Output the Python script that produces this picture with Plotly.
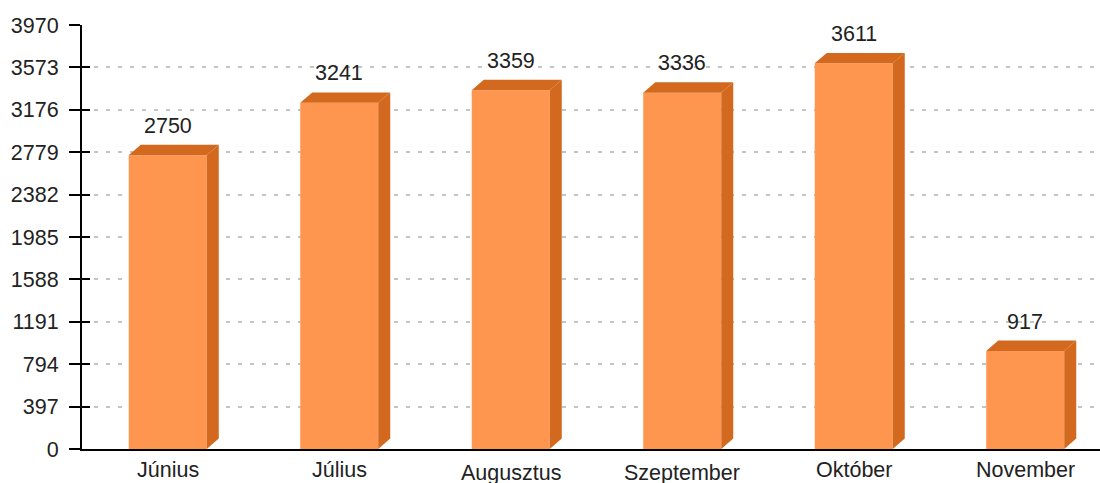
import plotly.graph_objects as go

months = ["Június", "Július", "Augusztus", "Szeptember", "Október", "November"]
values = [2750, 3241, 3359, 3336, 3611, 917]
y_ticks = [0, 397, 794, 1191, 1588, 1985, 2382, 2779, 3176, 3573, 3970]

# style: vertical offsets (px) of the category labels, as in the reference
label_drop = [0, 0, 3, 3, 0, 0]

FRONT = "#FF9650"
DARK = "#D2691E"
FONT = "Liberation Sans, Arial, sans-serif"
TXT = "#222222"
FS = 21.5

bar_w = 0.455
dx = 0.07      # depth offset (category units)
dv = 98        # depth offset (value units)

xs = list(range(len(months)))

fig = go.Figure()
fig.add_trace(go.Bar(x=xs, y=values, width=bar_w, marker=dict(color=FRONT, line=dict(width=0)),
                     hoverinfo="skip", showlegend=False))

for x, v in zip(xs, values):
    xl, xr = x - bar_w / 2, x + bar_w / 2
    # side face
    fig.add_trace(go.Scatter(x=[xr, xr, xr + dx, xr + dx, xr], y=[0, v, v + dv, dv, 0],
                             fill="toself", fillcolor=DARK, mode="lines", line=dict(width=0, color=DARK),
                             hoverinfo="skip", showlegend=False))
    # top face
    fig.add_trace(go.Scatter(x=[xl, xl + dx, xr + dx, xr, xl], y=[v, v + dv, v + dv, v, v],
                             fill="toself", fillcolor=DARK, mode="lines", line=dict(width=0, color=DARK),
                             hoverinfo="skip", showlegend=False))
    fig.add_annotation(x=x, y=v + dv, text=str(v), showarrow=False, yanchor="middle", yshift=19,
                       font=dict(family=FONT, size=FS, color=TXT))

for x, m, d in zip(xs, months, label_drop):
    fig.add_annotation(x=x, y=0, xref="x", yref="paper", text=m, showarrow=False,
                       yanchor="top", yshift=-7 - d, font=dict(family=FONT, size=FS, color=TXT))

fig.update_layout(
    width=1100, height=483,
    margin=dict(l=82, r=0, t=25, b=34),
    plot_bgcolor="white", paper_bgcolor="white",
    font=dict(family=FONT, size=FS, color=TXT),
    xaxis=dict(range=[-0.5, 5.436], tickvals=xs, showticklabels=False, showgrid=False, zeroline=False,
               showline=True, linecolor="black", linewidth=2, ticks=""),
    yaxis=dict(range=[0, 3970], tickvals=y_ticks, ticktext=[str(t) for t in y_ticks],
               showgrid=True, gridcolor="#C4C4C4", griddash="4px,8px", gridwidth=1.5,
               zeroline=False, showline=True, linecolor="black", linewidth=2,
               ticks="outside", ticklen=11, tickwidth=2, tickcolor="black", ticklabelstandoff=6,
               tickfont=dict(size=FS, color=TXT)),
    yaxis2=dict(range=[0, 3970], overlaying="y", side="left", tickvals=y_ticks, showticklabels=False,
                showgrid=False, zeroline=False, ticks="inside", ticklen=8, tickwidth=2, tickcolor="black"),
)
# dummy trace to activate yaxis2
fig.add_trace(go.Scatter(x=[None], y=[None], yaxis="y2", showlegend=False, hoverinfo="skip"))

fig.write_html("out.html", config={"displayModeBar": False},
               post_script="document.body.style.margin='0';document.body.style.overflow='hidden';")
